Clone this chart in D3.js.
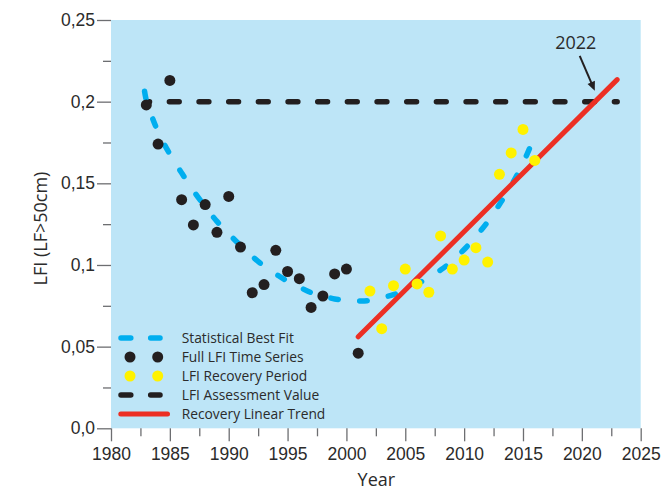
<!DOCTYPE html>
<html>
<head>
<meta charset="utf-8">
<script src="https://cdn.jsdelivr.net/npm/d3@7"></script>
<style>
  html, body { margin: 0; padding: 0; background: #ffffff; }
  svg { display: block; font-family: "Open Sans", "Noto Sans", sans-serif; }
</style>
</head>
<body>
<svg id="chart" width="661" height="489"></svg>
<script>
// Full LFI time series (black points)
const fullYears  = [1983, 1984, 1985, 1986, 1987, 1988, 1989, 1990, 1991, 1992,
                    1993, 1994, 1995, 1996, 1997, 1998, 1999, 2000, 2001];
const fullValues = [0.198, 0.174, 0.213, 0.140, 0.1245, 0.137, 0.120, 0.142, 0.111, 0.083,
                    0.088, 0.109, 0.096, 0.0916, 0.074, 0.081, 0.0945, 0.0975, 0.046];

// LFI recovery period (yellow points)
const recoveryYears  = [2002, 2003, 2004, 2005, 2006, 2007, 2008, 2009, 2010, 2011,
                        2012, 2013, 2014, 2015, 2016];
const recoveryValues = [0.084, 0.061, 0.0873, 0.0975, 0.0884, 0.0833, 0.1178, 0.0975, 0.103, 0.1106,
                        0.1018, 0.1555, 0.1686, 0.183, 0.164];

// Statistical best fit
const fitYears  = [1982.85, 1983, 1984, 1985, 1986, 1987, 1988, 1989, 1990, 1991,
                   1992, 1993, 1994, 1995, 1996, 1997, 1998, 1999, 2000, 2001,
                   2002, 2003, 2004, 2005, 2006, 2007, 2008, 2009, 2010, 2011,
                   2012, 2013, 2014, 2015, 2015.8];
const fitValues = [0.2064, 0.201, 0.1815, 0.1679, 0.1564, 0.1455, 0.1358, 0.1267, 0.1191, 0.1119,
                   0.1053, 0.0993, 0.0945, 0.0900, 0.0865, 0.0831, 0.0812, 0.0792, 0.0784, 0.0780,
                   0.0783, 0.0800, 0.0818, 0.0849, 0.0883, 0.0924, 0.0969, 0.1025, 0.1095, 0.1175,
                   0.1264, 0.1371, 0.1486, 0.1624, 0.1755];

// Recovery linear trend
const trendYears  = [2001, 2023];
const trendValues = [0.056, 0.2135];

// LFI assessment value
const assessYears  = [1983, 2023];
const assessValues = [0.2, 0.2];

// Annotation: year the trend reaches the assessment value
const noteLabel = "2022";
const noteArrowYears  = [2019.82, 2021.1];
const noteArrowValues = [0.228, 0.2067];

// Axes
const xTickValues = [1980, 1985, 1990, 1995, 2000, 2005, 2010, 2015, 2020, 2025];
const xTickLabels = ["1980", "1985", "1990", "1995", "2000", "2005", "2010", "2015", "2020", "2025"];
const xMinorTicks = [1982.5, 1987.5, 1992.5, 1997.5, 2002.5, 2007.5, 2012.5, 2017.5, 2022.5];
const yTickValues = [0, 0.05, 0.1, 0.15, 0.2, 0.25];
const yTickLabels = ["0,0", "0,05", "0,1", "0,15", "0,2", "0,25"];
const yMinorTicks = [0.025, 0.075, 0.125, 0.175, 0.225];
const xTitle = "Year";
const yTitle = "LFI (LF>50cm)";

const legendLabels = ["Statistical Best Fit", "Full LFI Time Series", "LFI Recovery Period",
                      "LFI Assessment Value", "Recovery Linear Trend"];

// Colours
const C = {
  bg: "#bde5f7",
  fit: "#00aeef",
  dot: "#231f20",
  rec: "#fff200",
  assess: "#231f20",
  trend: "#ec2f24",
  tick: "#6d6e71",
  text: "#2b2b2b"
};

const svg = d3.select("#chart");
const x = d3.scaleLinear().domain([1980, 2025]).range([111, 640.7]);
const y = d3.scaleLinear().domain([0, 0.25]).range([428.3, 20]);

// Plot background
svg.append("rect")
  .attr("x", x(1980)).attr("y", y(0.25))
  .attr("width", x(2025) - x(1980)).attr("height", y(0) - y(0.25))
  .attr("fill", C.bg);

// Axes
function styleAxis(g) {
  g.select(".domain").remove();
  g.selectAll(".tick line").attr("stroke", C.tick).attr("stroke-width", 1.3);
  g.selectAll(".tick text").attr("fill", C.text).style("font-size", "17.5px");
}

svg.append("g")
  .attr("transform", `translate(${x(1980)},0)`)
  .call(d3.axisLeft(y).tickValues(yTickValues).tickSize(14).tickPadding(2)
        .tickFormat((d, i) => yTickLabels[i]))
  .call(styleAxis);

svg.append("g")
  .attr("transform", `translate(${x(1980)},0)`)
  .call(d3.axisLeft(y).tickValues(yMinorTicks).tickSize(8).tickFormat(""))
  .call(styleAxis);

svg.append("g")
  .attr("transform", `translate(0,${y(0)})`)
  .call(d3.axisBottom(x).tickValues(xTickValues).tickSize(13).tickPadding(6)
        .tickFormat((d, i) => xTickLabels[i]))
  .call(styleAxis);

svg.append("g")
  .attr("transform", `translate(0,${y(0)})`)
  .call(d3.axisBottom(x).tickValues(xMinorTicks).tickSize(8).tickFormat(""))
  .call(styleAxis);

// Axis titles
svg.append("text")
  .attr("x", (x(1980) + x(2025)) / 2 + 0.5).attr("y", 485.5)
  .attr("text-anchor", "middle")
  .attr("fill", C.text).style("font-size", "18px")
  .text(xTitle);

svg.append("text")
  .attr("transform", `translate(46.5,${228.5}) rotate(-90)`)
  .attr("text-anchor", "middle")
  .attr("fill", C.text).style("font-size", "18px")
  .text(yTitle);

const line = d3.line().x(d => x(d[0])).y(d => y(d[1]));

// Assessment value (black dashes)
svg.append("path")
  .datum(d3.zip(assessYears, assessValues))
  .attr("d", line)
  .attr("fill", "none").attr("stroke", C.assess)
  .attr("stroke-width", 5.5).attr("stroke-linecap", "round")
  .attr("stroke-dasharray", "9.8 19.87").attr("stroke-dashoffset", 6.6);

// Statistical best fit (blue dashes)
svg.append("path")
  .datum(d3.zip(fitYears, fitValues))
  .attr("d", line.curve(d3.curveCatmullRom.alpha(0.5)))
  .attr("fill", "none").attr("stroke", C.fit)
  .attr("stroke-width", 5.5).attr("stroke-linecap", "round")
  .attr("stroke-dasharray", "7.5 21.5");
line.curve(d3.curveLinear);

// Recovery linear trend (red)
svg.append("path")
  .datum(d3.zip(trendYears, trendValues))
  .attr("d", line)
  .attr("fill", "none").attr("stroke", C.trend)
  .attr("stroke-width", 5).attr("stroke-linecap", "round");

// Full time series points
svg.append("g").selectAll("circle")
  .data(d3.zip(fullYears, fullValues))
  .join("circle")
  .attr("cx", d => x(d[0])).attr("cy", d => y(d[1]))
  .attr("r", 5.5).attr("fill", C.dot);

// Recovery period points
svg.append("g").selectAll("circle")
  .data(d3.zip(recoveryYears, recoveryValues))
  .join("circle")
  .attr("cx", d => x(d[0])).attr("cy", d => y(d[1]))
  .attr("r", 5.5).attr("fill", C.rec);

// Annotation arrow and label
{
  const x0 = x(noteArrowYears[0]), y0 = y(noteArrowValues[0]);
  const x1 = x(noteArrowYears[1]), y1 = y(noteArrowValues[1]);
  const a = Math.atan2(y1 - y0, x1 - x0);
  const head = 9, half = 4;
  const bx = x1 - head * Math.cos(a), by = y1 - head * Math.sin(a);
  svg.append("line")
    .attr("x1", x0).attr("y1", y0).attr("x2", bx + 2 * Math.cos(a)).attr("y2", by + 2 * Math.sin(a))
    .attr("stroke", C.dot).attr("stroke-width", 2);
  svg.append("path")
    .attr("d", `M${x1},${y1}L${bx + half * Math.sin(a)},${by - half * Math.cos(a)}` +
               `L${bx - half * Math.sin(a)},${by + half * Math.cos(a)}Z`)
    .attr("fill", C.dot);
  svg.append("text")
    .attr("x", x0 - 4).attr("y", y0 - 7)
    .attr("text-anchor", "middle")
    .attr("fill", C.text).style("font-size", "18px")
    .text(noteLabel);
}

// Legend
{
  const lg = svg.append("g");
  const rowY = i => 338 + i * 19;
  const sx0 = 121, sx1 = 160, dotA = 130, dotB = 157.7;

  lg.append("line").attr("x1", sx0).attr("x2", sx1).attr("y1", rowY(0)).attr("y2", rowY(0))
    .attr("stroke", C.fit).attr("stroke-width", 5.5).attr("stroke-linecap", "round")
    .attr("stroke-dasharray", "9.8 19.87");
  [dotA, dotB].forEach(cx => lg.append("circle").attr("cx", cx).attr("cy", rowY(1)).attr("r", 5.5).attr("fill", C.dot));
  [dotA, dotB].forEach(cx => lg.append("circle").attr("cx", cx).attr("cy", rowY(2)).attr("r", 5.5).attr("fill", C.rec));
  lg.append("line").attr("x1", sx0).attr("x2", sx1).attr("y1", rowY(3)).attr("y2", rowY(3))
    .attr("stroke", C.assess).attr("stroke-width", 5.5).attr("stroke-linecap", "round")
    .attr("stroke-dasharray", "9.8 19.87");
  lg.append("line").attr("x1", 120.8).attr("x2", 167.5).attr("y1", rowY(4)).attr("y2", rowY(4))
    .attr("stroke", C.trend).attr("stroke-width", 5).attr("stroke-linecap", "round");

  lg.selectAll("text").data(legendLabels).join("text")
    .attr("x", 181.7).attr("y", (d, i) => rowY(i) + 5)
    .attr("fill", C.text).style("font-size", "13.8px")
    .text(d => d);
}
</script>
</body>
</html>
